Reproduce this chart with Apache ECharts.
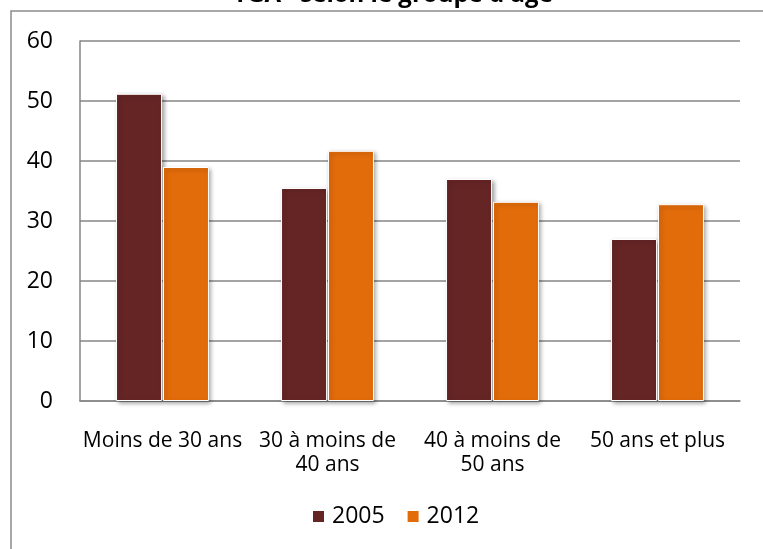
<!DOCTYPE html>
<html>
<head>
<meta charset="utf-8">
<script src="https://cdn.jsdelivr.net/npm/echarts@6/dist/echarts.min.js"></script>
<style>
  html, body { margin: 0; padding: 0; background: #fff; }
  #chart { width: 763px; height: 549px; }
</style>
</head>
<body>
<div id="chart"></div>
<script>
// Age groups and TGA values per survey year
const categories = ['Moins de 30 ans', '30 à moins de\n40 ans', '40 à moins de\n50 ans', '50 ans et plus'];
const values2005 = [51.2, 35.5, 37.0, 27.0];
const values2012 = [39.0, 41.7, 33.2, 32.8];
const yTicks = { min: 0, max: 60, interval: 10 };

const FONT = '"Open Sans", "Liberation Sans", sans-serif';
const chart = echarts.init(document.getElementById('chart'), null, { renderer: 'canvas' });

const barStyle = (color) => ({
  color: color,
  borderColor: '#ffffff',
  borderWidth: 1,
  shadowColor: 'rgba(0,0,0,0.35)',
  shadowBlur: 4,
  shadowOffsetX: 2,
  shadowOffsetY: 2
});

chart.setOption({
  animation: false,
  backgroundColor: '#ffffff',
  graphic: [
    {
      type: 'rect',
      shape: { x: 11, y: 11, width: 800, height: 600 },
      style: { fill: 'none', stroke: '#8c8c8c', lineWidth: 1.5 },
      z: 0
    },
    {
      type: 'text',
      x: 393,
      y: -17,
      style: {
        text: "TGA* selon le groupe d'âge",
        font: 'bold 24px ' + FONT,
        fill: '#000000',
        align: 'center',
        verticalAlign: 'top'
      },
      z: 10
    }
  ],
  grid: { left: 80, right: 23, top: 41, bottom: 148, containLabel: false },
  legend: {
    data: ['2005', '2012'],
    bottom: 16,
    left: 306,
    itemWidth: 13,
    itemHeight: 13,
    itemGap: 21,
    icon: 'rect',
    textStyle: { fontFamily: FONT, fontSize: 23, color: '#000', padding: [0, 0, 0, 2] }
  },
  xAxis: {
    type: 'category',
    data: categories,
    axisLine: { show: true, lineStyle: { color: '#868686', width: 1.5 } },
    axisTick: { show: false },
    axisLabel: {
      fontFamily: FONT, fontSize: 21, color: '#000', margin: 28, lineHeight: 24,
      interval: 0
    }
  },
  yAxis: {
    type: 'value',
    min: yTicks.min,
    max: yTicks.max,
    interval: yTicks.interval,
    axisLine: { show: true, lineStyle: { color: '#868686', width: 1.5 } },
    axisTick: { show: false },
    splitLine: { show: true, lineStyle: { color: '#868686', width: 1.5 } },
    axisLabel: { fontFamily: FONT, fontSize: 23, color: '#000', margin: 27 }
  },
  series: [
    {
      name: '2005', type: 'bar', data: values2005,
      barWidth: 46, barGap: '2%',
      itemStyle: barStyle('#662525')
    },
    {
      name: '2012', type: 'bar', data: values2012,
      barWidth: 46, barGap: '2%',
      itemStyle: barStyle('#e36c0a')
    }
  ]
});
</script>
</body>
</html>
